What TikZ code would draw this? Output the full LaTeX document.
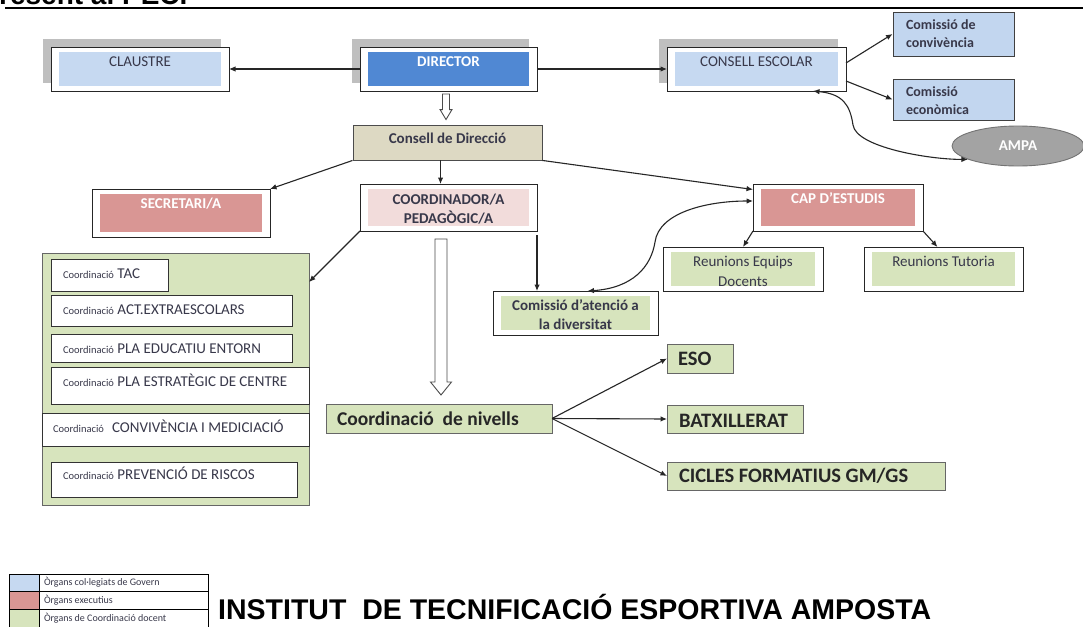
\documentclass[tikz,border=0pt]{standalone}
\usepackage{fontspec}
\setmainfont{Carlito}
\newfontfamily\arialfont{Liberation Sans}
\usetikzlibrary{calc,arrows.meta,shapes.geometric,backgrounds}
\definecolor{lblue}{HTML}{C6D9F1}
\definecolor{cblue}{HTML}{C2D6EF}
\definecolor{dblue}{HTML}{5088D3}
\definecolor{shgray}{HTML}{BFBFBF}
\definecolor{lred}{HTML}{D99694}
\definecolor{lpink}{HTML}{F2DCDB}
\definecolor{tanc}{HTML}{DDD9C3}
\definecolor{lgreen}{HTML}{D7E4BD}
\definecolor{ampagray}{HTML}{A3A3A3}
\definecolor{txt}{HTML}{38384A}
\newcommand\boxt[4]{\parbox[c][#2][t]{#1}{\centering\rule{0pt}{#3}#4}}
\newcommand\boxl[5]{\parbox[c][#2][t]{#1}{\leftskip=#4\relax\rightskip=0pt plus 1fil\relax\rule{0pt}{#3}#5}}
\newcommand\fhd{\fontsize{15}{20}\selectfont}
\newcommand\fhdb{\fontsize{15}{19}\selectfont\bfseries}
\newcommand\fcm{\fontsize{14}{18}\selectfont\bfseries}
\newcommand\fniv{\fontsize{19.5}{22}\selectfont\bfseries}
\newcommand\flev{\fontsize{20.5}{22}\selectfont\bfseries}
\newcommand\fsm{\fontsize{10.5}{12}\selectfont}
\newcommand\fit{\fontsize{15}{18}\selectfont}
\newcommand\flg{\fontsize{10}{12}\selectfont}
\newcommand\coordw{{\fsm Coordinació}}
\newcommand\hollowarrow[5]{%
  \draw[hollow] ($(#1)+(-#3,0)$) -- ($(#2)+(-#3,-#5)$) -- ($(#2)+(-#4,-#5)$) -- (#2)
    -- ($(#2)+(#4,-#5)$) -- ($(#2)+(#3,-#5)$) -- ($(#1)+(#3,0)$) -- cycle;}
\begin{document}
\begin{tikzpicture}[x=1pt,y=-1pt,
  wbox/.style={draw=black!85, line width=0.9pt, fill=white, inner sep=0pt, outer sep=0pt},
  infill/.style={path picture={\fill[#1] ([xshift=8pt,yshift=-5pt]path picture bounding box.north west) rectangle ([xshift=-8pt,yshift=5pt]path picture bounding box.south east);}},
  gbox/.style={draw=black!60, line width=1pt, fill=lgreen, inner sep=0pt, outer sep=0pt, text=black!85},
  itembox/.style={draw=black!80, line width=0.9pt, fill=white, inner sep=0pt, outer sep=0pt, font=\fit, text=txt},
  conn/.style={draw=black!85, line width=1.1pt, -{Latex[length=6.5pt,width=5.5pt]}},
  dconn/.style={draw=black!85, line width=1.1pt, {Latex[length=6.5pt,width=5.5pt]}-{Latex[length=6.5pt,width=5.5pt]}},
  hollow/.style={draw=black!70, line width=0.9pt, fill=white, line join=miter},
  lgcell/.style={draw=black, line width=0.6pt, inner sep=0pt, outer sep=0pt},
]
\useasboundingbox (0,0) rectangle (1083,626);
\clip (0,0) rectangle (1083,626);

% cut-off heading and rule
\node[font=\arialfont\bfseries\fontsize{28}{30}\selectfont, anchor=base west, inner sep=0pt] (pec) at (-1,5) {resent al PEC.};
\draw[line width=1.5pt] (5,8) -- (1083,8);

% top row
\node[wbox, infill=lblue, font=\fhd, text=txt] (claustre) at (140,69) {\boxt{178pt}{44pt}{19pt}{CLAUSTRE}};
\node[wbox, infill=dblue, font=\fhdb, text=white] (director) at (448.5,69) {\boxt{177pt}{44pt}{19pt}{DIRECTOR}};
\node[wbox, infill=lblue, font=\fhd, text=txt] (cesc) at (756.5,69) {\boxt{179pt}{44pt}{19pt}{CONSELL ESCOLAR}};
\begin{scope}[on background layer]
  \fill[white] (0,0) rectangle (1083,626);
  \fill[shgray] ([shift={(-8pt,8pt)}]claustre.north west) rectangle ([shift={(-8pt,8pt)}]claustre.south east);
  \fill[shgray] ([shift={(-8pt,8pt)}]director.north west) rectangle ([shift={(-8pt,8pt)}]director.south east);
  \fill[shgray] ([shift={(-8pt,8pt)}]cesc.north west) rectangle ([shift={(-8pt,8pt)}]cesc.south east);
\end{scope}

\node[draw=black!75, line width=0.9pt, fill=cblue, inner sep=0pt, font=\fcm, text=txt] (cconv) at (953.5,34) {\boxl{121pt}{44pt}{17.5pt}{13pt}{Comissió de\\convivència}};
\node[draw=black!75, line width=0.9pt, fill=cblue, inner sep=0pt, font=\fcm, text=txt] (cecon) at (953.5,99.5) {\boxl{121pt}{41pt}{17pt}{13pt}{Comissió\\econòmica}};
\node[ellipse, draw=black!55, line width=0.9pt, fill=ampagray, minimum width=132pt, minimum height=40pt, inner sep=0pt, font=\fhdb, text=white] (ampa) at (1018,146) {AMPA};

% second level
\node[draw=black!70, line width=0.9pt, fill=tanc, inner sep=0pt, font=\fhdb, text=txt] (cdir) at (447.5,142.5) {\boxt{189pt}{35pt}{18pt}{Consell de Direcció}};
\node[wbox, infill=lpink, font=\fhdb, text=txt] (coord) at (448.5,207.5) {\boxt{177pt}{47pt}{20pt}{COORDINADOR/A\\PEDAGÒGIC/A}};
\node[wbox, infill=lred, font=\fhdb, text=white] (secr) at (181,213) {\boxt{178pt}{48pt}{19pt}{SECRETARI/A}};
\node[wbox, infill=lred, font=\fhdb, text=white] (cap) at (838,207.5) {\boxt{170pt}{47pt}{19pt}{CAP D’ESTUDIS}};
\node[wbox, infill=lgreen, font=\fhd, text=txt] (reunE) at (743,269) {\boxt{160pt}{44pt}{19pt}{Reunions Equips\\Docents}};
\node[wbox, infill=lgreen, font=\fhd, text=txt] (reunT) at (943.5,269) {\boxt{159pt}{44pt}{19pt}{Reunions Tutoria}};
\node[wbox, infill=lgreen, font=\fhdb, text=txt] (catt) at (575.5,313) {\boxt{165pt}{44pt}{19pt}{Comissió d’atenció a\\la diversitat}};

% levels
\node[gbox, font=\fniv] (niv) at (439,418.5) {\boxl{226pt}{29pt}{21.5pt}{11pt}{Coordinació\ \ de nivells}};
\node[gbox, font=\flev] (eso) at (700,358.5) {\boxl{66pt}{29pt}{21.5pt}{11pt}{ESO}};
\node[gbox, font=\flev] (batx) at (735,419) {\boxl{136pt}{28pt}{22pt}{12pt}{BATXILLERAT}};
\node[gbox, font=\flev] (cicl) at (806,476) {\boxl{278pt}{28pt}{20.5pt}{12pt}{CICLES FORMATIUS GM/GS}};

% left coordination group
\node[gbox, minimum width=267pt, minimum height=252pt] (greenbox) at (175.5,379) {};
\node[itembox] (tac) at (109.5,275) {\boxl{117pt}{32pt}{19pt}{12pt}{\coordw\ TAC}};
\node[itembox] (act) at (171.5,310.5) {\boxl{241pt}{31pt}{19pt}{12pt}{\coordw\ ACT.EXTRAESCOLARS}};
\node[itembox] (pedu) at (171.5,348) {\boxl{241pt}{28pt}{19pt}{12pt}{\coordw\ PLA EDUCATIU ENTORN}};
\node[itembox] (pest) at (180,385.5) {\boxl{258pt}{37pt}{19pt}{12pt}{\coordw\ PLA ESTRATÈGIC DE CENTRE}};
\node[itembox] (convi) at (175.5,429.5) {\boxl{267pt}{33pt}{19pt}{11pt}{\coordw\hspace{8pt}CONVIVÈNCIA I MEDICIACIÓ}};
\node[itembox] (prev) at (174,479.5) {\boxl{246pt}{35pt}{17pt}{12pt}{\coordw\ PREVENCIÓ DE RISCOS}};

% connectors
\draw[conn] (director) -- (claustre);
\draw[conn] (director) -- (cesc);
\draw[conn] ([yshift=6pt]cesc.east) -- (cconv.west);
\draw[conn] ([yshift=-12pt]cesc.east) -- (cecon.west);
\coordinate (w1) at (853,125);
\draw[dconn] ([xshift=-33pt]cesc.south east) .. controls +(30,3) and +(-3,-20) .. (w1) .. controls +(3,22) and +(-40,0) .. (ampa.195);
\draw[conn] ([xshift=-7pt]cdir.south) -- ([xshift=-7pt]cdir.south |- coord.north);
\draw[conn] (cdir.south west) -- (secr.north east);
\draw[conn] (cdir.south east) -- ([yshift=18pt]cap.west);
\draw[conn] (coord.south west) -- ([yshift=-29pt]greenbox.north east);
\draw[conn] ([yshift=-4pt]coord.south east) -- (coord.south east |- catt.north);
\coordinate (w2) at (655,242);
\draw[dconn] ([xshift=12pt]catt.north) .. controls +(45,-3) and +(-4,25) .. (w2) .. controls +(4,-30) and +(-45,0) .. ([yshift=6.5pt]cap.west);
\draw[conn] (cap.south west) -- (reunE.north);
\draw[conn] (cap.south east) -- ([xshift=-6pt]reunT.north);
\draw[conn] (niv.east) -- (eso.west);
\draw[conn] (niv.east) -- (batx.west);
\draw[conn] (niv.east) -- (cicl.west);

% hollow arrows
\coordinate (h1a) at ([xshift=-2.5pt,yshift=-3pt]director.south);
\coordinate (h1b) at ([xshift=-1.5pt,yshift=5pt]cdir.north);
\hollowarrow{h1a}{h1b}{3.5}{6}{10}
\coordinate (h2a) at ([xshift=-7.5pt,yshift=-8pt]coord.south);
\coordinate (h2b) at ([xshift=2pt,yshift=9pt]niv.north);
\hollowarrow{h2a}{h2b}{6}{10.5}{13}

% legend
\node[lgcell, fill=lblue, minimum width=30pt, minimum height=17pt] (lg1c) at (24,582.5) {};
\node[lgcell, font=\flg, text=txt, anchor=west] (lg1t) at (39,582.5) {\parbox[c][17pt][c]{169pt}{\hspace*{5pt}Òrgans col·legiats de Govern}};
\node[lgcell, fill=lred, minimum width=30pt, minimum height=18pt] (lg2c) at (24,600) {};
\node[lgcell, font=\flg, text=txt, anchor=west] (lg2t) at (39,600) {\parbox[c][18pt][c]{169pt}{\hspace*{5pt}Òrgans executius}};
\node[lgcell, fill=lgreen, minimum width=30pt, minimum height=19pt] (lg3c) at (24,618.5) {};
\node[lgcell, font=\flg, text=txt, anchor=west] (lg3t) at (39,618.5) {\parbox[c][19pt][c]{169pt}{\hspace*{5pt}Òrgans de Coordinació docent}};

% title
\node[font=\arialfont\bfseries\fontsize{28.5}{30}\selectfont, anchor=base west, inner sep=0pt] (title) at (218,619) {INSTITUT\ \ DE TECNIFICACIÓ ESPORTIVA AMPOSTA};
\end{tikzpicture}
\end{document}
